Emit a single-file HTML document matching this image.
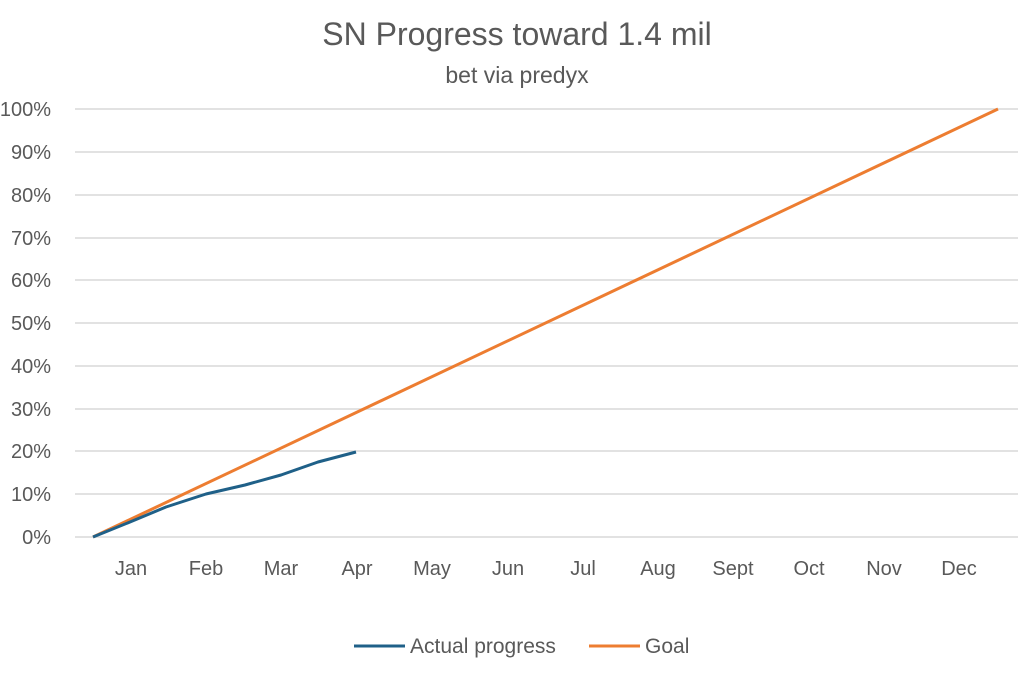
<!DOCTYPE html>
<html><head><meta charset="utf-8"><style>
body{margin:0;background:#fff;}
</style></head><body>
<svg width="1031" height="670" xmlns="http://www.w3.org/2000/svg" font-family="Liberation Sans, sans-serif">
<rect width="1031" height="670" fill="#fff"/>
<text x="517" y="45" text-anchor="middle" font-size="32" fill="#595959">SN Progress toward 1.4 mil</text>
<text x="517" y="83" text-anchor="middle" font-size="23" fill="#595959">bet via predyx</text>
<g stroke="#d9d9d9" stroke-width="1.5">
<line x1="75" x2="1018" y1="109" y2="109"/><line x1="75" x2="1018" y1="152" y2="152"/>
<line x1="75" x2="1018" y1="195" y2="195"/><line x1="75" x2="1018" y1="238" y2="238"/>
<line x1="75" x2="1018" y1="280" y2="280"/><line x1="75" x2="1018" y1="323" y2="323"/>
<line x1="75" x2="1018" y1="366" y2="366"/><line x1="75" x2="1018" y1="409" y2="409"/>
<line x1="75" x2="1018" y1="451" y2="451"/><line x1="75" x2="1018" y1="494" y2="494"/>
<line x1="75" x2="1018" y1="537" y2="537"/>
</g>
<g font-size="20" fill="#595959" text-anchor="end">
<text x="51" y="116">100%</text><text x="51" y="159">90%</text><text x="51" y="202">80%</text>
<text x="51" y="245">70%</text><text x="51" y="287">60%</text><text x="51" y="330">50%</text>
<text x="51" y="373">40%</text><text x="51" y="416">30%</text><text x="51" y="458">20%</text>
<text x="51" y="501">10%</text><text x="51" y="544">0%</text>
</g>
<g font-size="20" fill="#595959" text-anchor="middle">
<text x="131" y="575">Jan</text><text x="206" y="575">Feb</text><text x="281" y="575">Mar</text>
<text x="357" y="575">Apr</text><text x="432" y="575">May</text><text x="508" y="575">Jun</text>
<text x="583" y="575">Jul</text><text x="658" y="575">Aug</text><text x="733" y="575">Sept</text>
<text x="809" y="575">Oct</text><text x="884" y="575">Nov</text><text x="959" y="575">Dec</text>
</g>
<line x1="93" y1="537" x2="998" y2="109" stroke="#ed7d31" stroke-width="3"/>
<polyline points="93,537 130,522 166,507 206,494 245,485 281,475 318,462 356,452" fill="none" stroke="#1f6088" stroke-width="3" stroke-linejoin="round"/>
<line x1="354" y1="646" x2="405" y2="646" stroke="#1f6088" stroke-width="3"/>
<text x="410" y="653" font-size="21" fill="#595959">Actual progress</text>
<line x1="589" y1="646" x2="640" y2="646" stroke="#ed7d31" stroke-width="3"/>
<text x="645" y="653" font-size="21" fill="#595959">Goal</text>
</svg>
</body></html>
